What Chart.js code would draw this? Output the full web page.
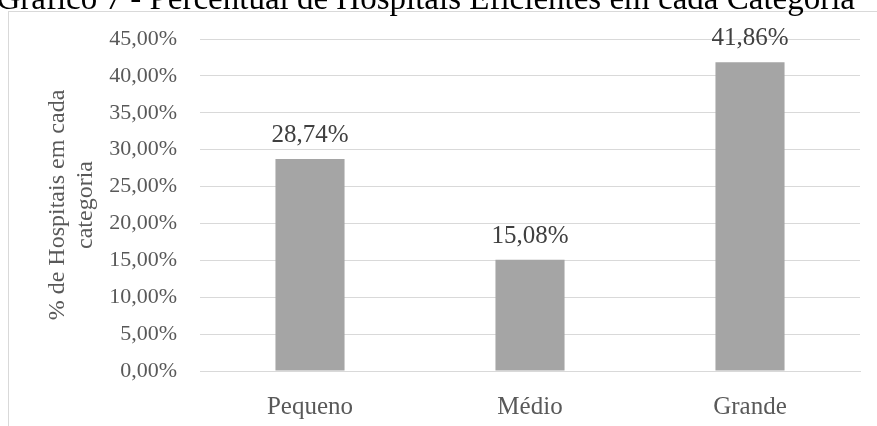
<!DOCTYPE html>
<html>
<head>
<meta charset="utf-8">
<script src="https://cdn.jsdelivr.net/npm/chart.js@4"></script>
<style>
  html, body { margin: 0; padding: 0; background: #fff; }
  #wrap { position: relative; width: 877px; height: 426px; overflow: hidden; }
</style>
</head>
<body>
<div id="wrap"><canvas id="grafico" width="877" height="426"></canvas></div>
<script>
// Dados do gráfico
const categorias = ['Pequeno', 'Médio', 'Grande'];
const percentuais = [28.74, 15.08, 41.86];
const tituloGrafico = 'Gráfico 7 - Percentual de Hospitais Eficientes em cada Categoria';
const tituloEixoY = ['% de Hospitais em cada', 'categoria'];

const FONTE = "'Liberation Serif', 'Times New Roman', serif";

function formatoPct(v) {
    return v.toFixed(2).replace('.', ',') + '%';
}

// Moldura cinza da área do gráfico e título (cortado no topo)
const molduraPlugin = {
    id: 'moldura',
    beforeDraw(chart) {
        const ctx = chart.ctx;
        ctx.save();
        ctx.fillStyle = '#ffffff';
        ctx.fillRect(0, 0, chart.width, chart.height);
        ctx.strokeStyle = '#d9d9d9';
        ctx.lineWidth = 1;
        ctx.strokeRect(8.5, 11.5, chart.width + 20, chart.height + 20);
        ctx.fillStyle = '#000000';
        ctx.font = '33px ' + FONTE;
        ctx.textAlign = 'right';
        ctx.textBaseline = 'alphabetic';
        ctx.fillText(tituloGrafico, 855, 9);
        ctx.restore();
    }
};

// Rótulos de valor acima das barras
const rotulosPlugin = {
    id: 'rotulos',
    afterDatasetsDraw(chart) {
        const ctx = chart.ctx;
        const meta = chart.getDatasetMeta(0);
        ctx.save();
        ctx.font = '25px ' + FONTE;
        ctx.fillStyle = '#404040';
        ctx.textAlign = 'center';
        ctx.textBaseline = 'alphabetic';
        meta.data.forEach((barra, i) => {
            ctx.fillText(formatoPct(percentuais[i]), barra.x, barra.y - 17);
        });
        ctx.restore();
    }
};

const ctx = document.getElementById('grafico').getContext('2d');

new Chart(ctx, {
    type: 'bar',
    data: {
        labels: categorias,
        datasets: [{
            data: percentuais,
            backgroundColor: '#a5a5a5',
            borderWidth: 0,
            categoryPercentage: 1,
            barPercentage: 0.314
        }]
    },
    options: {
        responsive: false,
        animation: false,
        devicePixelRatio: 1,
        layout: {
            padding: { left: 40, right: 17, top: 39, bottom: 0 }
        },
        plugins: {
            legend: { display: false },
            tooltip: { enabled: false }
        },
        scales: {
            y: {
                min: 0,
                max: 45,
                ticks: {
                    stepSize: 5,
                    callback: (v) => formatoPct(v),
                    font: { family: FONTE, size: 22 },
                    color: '#595959',
                    padding: 23
                },
                grid: { color: '#d9d9d9', lineWidth: 1, drawTicks: false },
                border: { display: false },
                title: {
                    display: true,
                    text: tituloEixoY,
                    font: { family: FONTE, size: 24 },
                    color: '#595959',
                    padding: { top: 3, bottom: 0 }
                },
                afterFit(escala) { escala.width = 160; }
            },
            x: {
                grid: { display: false },
                border: { color: '#d9d9d9', width: 1 },
                ticks: {
                    font: { family: FONTE, size: 25 },
                    color: '#595959',
                    padding: 13
                },
                afterFit(escala) { escala.height = 55; }
            }
        }
    },
    plugins: [molduraPlugin, rotulosPlugin]
});
</script>
</body>
</html>
